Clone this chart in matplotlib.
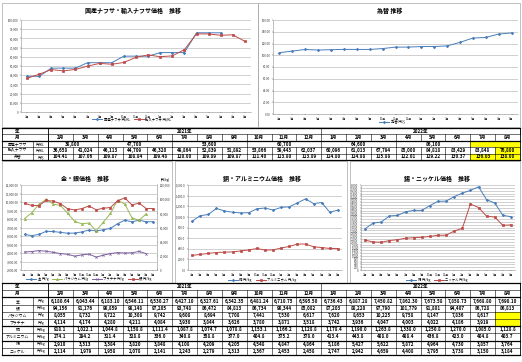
import numpy as np
import matplotlib
matplotlib.use('Agg')
import matplotlib.pyplot as plt
from matplotlib.patches import Rectangle
from matplotlib.ticker import FuncFormatter

plt.rcParams['font.family'] = ['Noto Sans CJK JP', 'DejaVu Sans']

W, H = 522, 362

# ---- data ----
months = ['2月', '3月', '4月', '5月', '6月', '7月', '8月', '9月', '10月', '11月', '12月',
          '1月', '2月', '3月', '4月', '5月', '6月', '7月', '8月']
years = [('2021年', 11), ('2022年', 8)]

naphtha_dom = [38800, 38800, 47700, 47700, 47700, 53600, 53600, 53600, 60700, 60700, 60700,
               64600, 64600, 64600, 86100, 86100, 86100, None, None]
naphtha_imp = [36658, 41024, 46113, 44709, 46320, 49864, 52839, 51892, 53866, 59443, 62037,
               60096, 61013, 67794, 85000, 84818, 83429, 83848, 76800]
fx = [104.41, 107.06, 109.87, 108.84, 109.48, 110.00, 109.89, 109.87, 111.40, 113.80, 113.89,
      114.80, 114.88, 115.88, 122.01, 129.22, 130.37, 136.03, 138.00]

gold = [6180.64, 6043.44, 6183.10, 6546.11, 6530.27, 6427.10, 6327.61, 6342.35, 6481.24, 6710.75, 6595.50,
        6736.43, 6887.28, 7450.82, 7862.30, 7673.58, 7858.73, 7668.80, 7690.10]
silver = [94156, 91176, 90859, 98148, 97205, 93748, 86472, 84813, 86734, 90344, 85082,
          87203, 88220, 97790, 101779, 91801, 94407, 86728, 86813]
palladium = [8055, 8732, 9722, 10308, 9742, 9608, 8694, 7708, 7441, 7530, 6617,
             7620, 8653, 10225, 9758, 8147, 7836, 8617, None]
platinum = [4114, 4174, 4280, 4211, 4084, 3930, 3844, 3626, 3780, 3871, 3518,
            3742, 3936, 4047, 4003, 4022, 4186, 3919, None]
copper = [918.1, 1022.1, 1044.8, 1158.8, 1111.4, 1087.8, 1074.7, 1078.8, 1153.1, 1166.2, 1128.8,
          1178.4, 1190.0, 1263.8, 1338.0, 1250.8, 1270.0, 1085.0, 1128.8]
aluminium = [274.1, 294.2, 311.4, 328.8, 336.0, 340.8, 358.8, 377.0, 404.8, 375.2, 378.0,
             413.4, 443.8, 488.0, 488.4, 436.8, 423.0, 404.8, 403.7]
tin = [2910, 3313, 3384, 3820, 3848, 4108, 4209, 4205, 4548, 4847, 4864,
       5186, 5427, 5622, 5872, 4964, 4730, 3857, 3764]
nickel = [2114, 1979, 1958, 2078, 2141, 2243, 2279, 2313, 2367, 2453, 2458,
          2747, 2942, 4659, 4408, 3795, 3738, 3150, 3184]

BLUE, RED, GREEN, PURPLE = '#4a7ebb', '#be4b48', '#98b954', '#7d60a0'

fig = plt.figure(figsize=(W / 100, H / 100), dpi=100)
ov = fig.add_axes([0, 0, 1, 1])
ov.set_xlim(0, W)
ov.set_ylim(H, 0)
ov.axis('off')


def px_axes(l, t, r, b):
    return fig.add_axes([l / W, 1 - b / H, (r - l) / W, (b - t) / H])


def style(ax, lo, hi, step, fmt):
    ax.set_xlim(-0.5, 18.5)
    ax.set_ylim(lo, hi)
    ax.set_yticks(np.arange(lo, hi + step / 2, step))
    ax.yaxis.set_major_formatter(FuncFormatter(lambda v, p: fmt.format(v)))
    ax.set_xticks(range(len(months)))
    ax.set_xticklabels(months)
    ax.tick_params(labelsize=2.1, length=1, width=0.3, pad=0.8, colors='#333333')
    ax.grid(axis='y', color='#bdbdbd', lw=0.5)
    ax.set_axisbelow(True)
    for s in ['top', 'right']:
        ax.spines[s].set_visible(False)
    for s in ['left', 'bottom']:
        ax.spines[s].set_color('#8c8c8c')
        ax.spines[s].set_linewidth(0.4)


def series(ax, vals, color, marker, label, ms=1.6):
    v = np.array([np.nan if x is None else x for x in vals], dtype=float)
    return ax.plot(range(len(v)), v, color=color, lw=0.7, marker=marker, ms=ms,
                   mew=0.5, label=label)[0]


def legend(ax, handles, cx, cy):
    ax.legend(handles=handles, loc='center', bbox_to_anchor=(cx / W, 1 - cy / H),
              bbox_transform=fig.transFigure, ncol=len(handles), fontsize=2.4,
              frameon=False, handlelength=3, columnspacing=1.2, handletextpad=0.4,
              borderpad=0)


def frame(l, t, r, b, title, tx, ty):
    ov.add_patch(Rectangle((l, t), r - l, b - t, fill=False, ec='#a6a6a6', lw=0.5))
    ov.text(tx, ty, title, ha='center', va='center', fontsize=4.3, weight='bold')


# ---- top charts ----
frame(2, 3, 258, 127, '国産ナフサ・輸入ナフサ価格　推移', 133, 10)
ax = px_axes(21, 20, 251, 112)
style(ax, 0, 100000, 10000, '{:,.0f}')
h1 = series(ax, naphtha_dom, BLUE, 'D', '国産ナフサ 円/KL', 1.3)
h2 = series(ax, naphtha_imp, RED, 's', '輸入ナフサ 円/KL')
legend(ax, [h1, h2], 132, 119.5)

frame(258, 3, 520, 127, '為替 推移', 390, 11)
ax = px_axes(273, 20, 518, 114)
style(ax, 0, 160, 20, '{:.2f}')
h = series(ax, fx, BLUE, 'D', r'為替 円/\$', 1.3)
legend(ax, [h], 392, 122)

# ---- middle charts ----
frame(2, 161, 172, 283, '金・銀価格　推移', 85, 178)
ax = px_axes(21, 185, 157, 270)
style(ax, 2000, 12000, 1000, '{:,.2f}')
ax2 = ax.twinx()
ax2.set_ylim(0, 120000)
ax2.set_yticks(np.arange(0, 120001, 20000))
ax2.yaxis.set_major_formatter(FuncFormatter(lambda v, p: '{:,.0f}'.format(v)))
ax2.tick_params(labelsize=2.1, length=1, width=0.3, pad=0.8, colors='#333333')
for s in ['top', 'left', 'bottom']:
    ax2.spines[s].set_visible(False)
ax2.spines['right'].set_color('#8c8c8c')
ax2.spines['right'].set_linewidth(0.4)
g1 = series(ax, gold, BLUE, 'D', '金 円/g', 1.3)
g2 = series(ax, palladium, GREEN, '^', 'パラジウム 円/g')
g3 = series(ax, platinum, PURPLE, 'x', 'プラチナ 円/g')
g4 = series(ax2, silver, RED, 's', '銀 円/kg')
legend(ax2, [g1, g2, g3, g4], 89, 279)
ov.text(165, 180, '(円/kg)', ha='center', va='center', fontsize=2.1)

frame(175, 161, 347, 283, '銅・アルミニウム価格　推移', 262, 178)
ax = px_axes(188, 185, 342, 270)
style(ax, 0, 1600, 200, '{:,.1f}')
c1 = series(ax, copper, BLUE, 'D', '銅 円/kg', 1.3)
c2 = series(ax, aluminium, RED, 's', 'アルミニウム 円/kg')
legend(ax, [c1, c2], 262, 280)

frame(350, 161, 520, 283, '錫・ニッケル価格　推移', 437, 178)
ax = px_axes(361, 185, 515, 270)
style(ax, 0, 6000, 200, '{:,.0f}')
t1 = series(ax, tin, BLUE, 'D', '錫 円/kg', 1.3)
t2 = series(ax, nickel, RED, 's', 'ニッケル 円/kg')
legend(ax, [t1, t2], 437, 280)

# ---- tables ----
XL, XU, XM, XR = 2, 33, 48, 520
CW = (XR - XM) / len(months)
FS = 3.3
YELLOW = '#ffff00'


def draw_table(top, rh, body, thick_after):
    nrows = 2 + len(body)
    bottom = top + nrows * rh
    # header rows
    ov.text((XL + XU) / 2, top + rh / 2, '年', ha='center', va='center', fontsize=FS, weight='bold')
    ov.text((XL + XU) / 2, top + 1.5 * rh, '月', ha='center', va='center', fontsize=FS, weight='bold')
    x = XM
    for name, n in years:
        ov.text(x + n * CW / 2, top + rh / 2, name, ha='center', va='center', fontsize=FS, weight='bold')
        x += n * CW
        ov.plot([x, x], [top, top + rh], color='k', lw=0.4)
    for i, m in enumerate(months):
        xa = XM + i * CW
        ov.text(xa + CW / 2, top + 1.5 * rh, m, ha='center', va='center', fontsize=FS, weight='bold')
        ov.plot([xa, xa], [top + rh, top + 2 * rh], color='k', lw=0.4)
    # body rows
    for r, (label, unit, vals, fmt, merge, hl) in enumerate(body):
        y = top + (r + 2) * rh
        ov.text((XL + XU) / 2, y + rh / 2, label, ha='center', va='center', fontsize=FS * 0.85)
        ov.text((XU + XM) / 2, y + rh / 2, unit, ha='center', va='center', fontsize=FS * 0.75)
        ov.plot([XU, XU], [y, y + rh], color='k', lw=0.4)
        segs = []
        i = 0
        while i < len(vals):
            j = i + 1
            if merge:
                while j < len(vals) and vals[j] == vals[i]:
                    j += 1
            segs.append((i, j, vals[i]))
            i = j
        for i0, i1, v in segs:
            xa, xb = XM + i0 * CW, XM + i1 * CW
            if v is None or i0 in hl:
                ov.add_patch(Rectangle((xa, y), xb - xa, rh, fc=YELLOW, ec='none', zorder=0))
            ov.plot([xa, xa], [y, y + rh], color='k', lw=0.4)
            if v is not None:
                ov.text((xa + xb) / 2, y + rh / 2, fmt.format(v), ha='center', va='center',
                        fontsize=FS, weight='bold')
    for k in range(nrows + 1):
        yy = top + k * rh
        ov.plot([XL, XR], [yy, yy], color='k', lw=0.9 if k in thick_after else 0.4)
    for xx in [XL, XM, XR]:
        ov.plot([xx, xx], [top, bottom], color='k', lw=0.6)


draw_table(128, 6.4, [
    ('国産ナフサ', '円/KL', naphtha_dom, '{:,}', True, []),
    ('輸入ナフサ', '円/KL', naphtha_imp, '{:,}', False, [18]),
    ('為替', '円/$', fx, '{:.2f}', False, [17, 18]),
], [0, 2, 5])

draw_table(283, 7.2, [
    ('金', '円/g', gold, '{:,.2f}', False, []),
    ('銀', '円/kg', silver, '{:,}', False, []),
    ('パラジウム', '円/g', palladium, '{:,}', False, []),
    ('プラチナ', '円/g', platinum, '{:,}', False, []),
    ('銅', '円/kg', copper, '{:,.1f}', False, []),
    ('アルミニウム', '円/kg', aluminium, '{:,.1f}', False, []),
    ('錫', '円/kg', tin, '{:,}', False, []),
    ('ニッケル', '円/kg', nickel, '{:,}', False, []),
], [0, 2, 6, 8, 10])

fig.savefig('out.png', dpi=100)
